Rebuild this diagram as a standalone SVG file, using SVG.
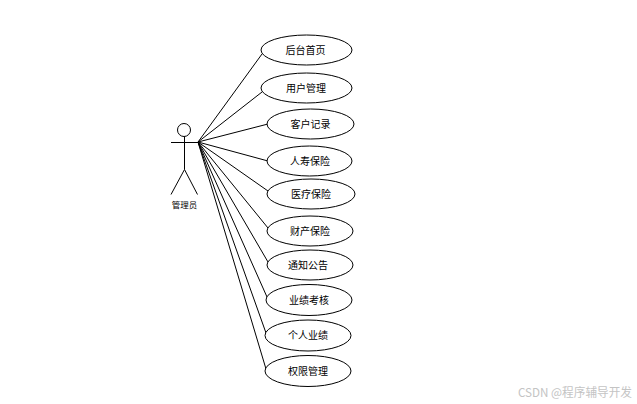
<svg xmlns="http://www.w3.org/2000/svg" width="637" height="404" viewBox="0 0 637 404">
<style>
.l{stroke:#000;stroke-width:1;fill:none}
.e{stroke:#000;stroke-width:1;fill:#fff}
.t{font-family:"Noto Sans CJK SC","Liberation Sans",sans-serif;font-size:10px;fill:#000;text-anchor:middle}
.w{font-family:"Noto Sans CJK SC","Liberation Sans",sans-serif;font-size:12px;fill:#c4c4c4}
</style>
<rect width="637" height="404" fill="#fff"/>
<g id="connectors" class="l">
<path d="M198 142L262 54"/><path d="M198 142L262 92"/><path d="M198 142L268 124"/><path d="M198 142L268 161"/><path d="M198 142L268 191"/><path d="M198 142L268 228"/><path d="M198 142L268 262"/><path d="M198 142L267 297"/><path d="M198 142L266 333"/><path d="M198 142L266 369"/>
</g>
<g id="actor">
<circle class="l" cx="184" cy="130" r="6.500"/>
<path class="l" d="M171 142.500H198M184.500 136.500V169.500L171 194.500M184.500 169.500L197.500 194.500"/>
<text class="t" x="184.500" y="207.500" style="font-size:8.500px">管理员</text>
</g>
<g id="n1"><ellipse class="e" cx="306.500" cy="50" rx="45.500" ry="15"/><text class="t" x="305.500" y="54">后台首页</text></g>
<g id="n2"><ellipse class="e" cx="306.500" cy="88" rx="45.500" ry="15"/><text class="t" x="306" y="92">用户管理</text></g>
<g id="n3"><ellipse class="e" cx="310.500" cy="124" rx="43.500" ry="15"/><text class="t" x="310.500" y="128">客户记录</text></g>
<g id="n4"><ellipse class="e" cx="309.500" cy="161" rx="42.500" ry="15"/><text class="t" x="310" y="165">人寿保险</text></g>
<g id="n5"><ellipse class="e" cx="311" cy="194" rx="44" ry="15"/><text class="t" x="311" y="198">医疗保险</text></g>
<g id="n6"><ellipse class="e" cx="310" cy="231" rx="43" ry="15"/><text class="t" x="310" y="235">财产保险</text></g>
<g id="n7"><ellipse class="e" cx="310" cy="265" rx="43" ry="15"/><text class="t" x="308" y="269">通知公告</text></g>
<g id="n8"><ellipse class="e" cx="309" cy="300" rx="43" ry="15.500"/><text class="t" x="309" y="304">业绩考核</text></g>
<g id="n9"><ellipse class="e" cx="308" cy="335.500" rx="43" ry="15.500"/><text class="t" x="308" y="339">个人业绩</text></g>
<g id="n10"><ellipse class="e" cx="308" cy="371" rx="43" ry="15.500"/><text class="t" x="308" y="375">权限管理</text></g>
<text class="w" x="518" y="397" textLength="114" lengthAdjust="spacingAndGlyphs">CSDN @程序辅导开发</text>
</svg>
